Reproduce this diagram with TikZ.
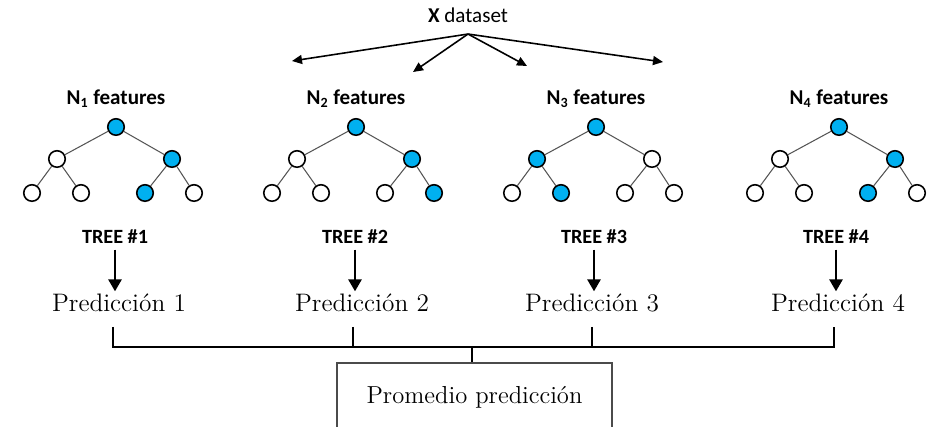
\documentclass[tikz,border=0pt]{standalone}
\usepackage{fontspec}
\newfontfamily\calibri{Carlito}
\usetikzlibrary{arrows.meta}

\definecolor{splitblue}{RGB}{0,176,240}
\definecolor{branchgray}{RGB}{85,85,85}
\definecolor{boxgray}{RGB}{75,75,75}

\tikzset{
  tnode/.style={circle,draw=black,line width=0.9pt,fill=#1,minimum size=3.3mm,inner sep=0pt},
  branch/.style={branchgray,line width=0.6pt},
  feat/.style={font=\calibri\bfseries\fontsize{12}{14}\selectfont},
  treelab/.style={font=\calibri\bfseries\fontsize{11.5}{13}\selectfont,inner sep=3pt},
  pred/.style={font=\fontsize{14.4}{16}\selectfont,anchor=base,inner sep=1.5pt},
  spread/.style={line width=0.9pt,-{Triangle[length=2mm,width=1.8mm]}},
  down/.style={line width=1.5pt,-{Triangle[length=2.4mm,width=2.6mm]}},
  bracket/.style={line width=1.3pt},
  avgbox/.style={draw=boxgray,line width=1.4pt,minimum width=55mm,minimum height=13.6mm,
    font=\fontsize{14}{16}\selectfont}
}

\begin{document}
\begin{tikzpicture}[x=0.2mm,y=-0.2mm]

\path[use as bounding box,clip] (0,0) rectangle (938,427);

% dataset split into four subsets
\node[font=\calibri\fontsize{12}{14}\selectfont,anchor=base,inner ysep=6pt] (xdata) at (468,23) {\textbf{X} dataset};
\coordinate (d1) at (292,61);
\coordinate (d2) at (413,72);
\coordinate (d3) at (527,66);
\coordinate (d4) at (663,62);
\foreach \i in {1,...,4}
  \draw[spread] (xdata.south) -- (d\i);

% the four trees (root is always used)
\foreach \t/\x/\ca/\cb/\la/\lb/\lc/\ld in {
    1/116/white/splitblue/white/white/splitblue/white,
    2/356/white/splitblue/white/white/white/splitblue,
    3/596/splitblue/white/white/splitblue/white/white,
    4/839/white/splitblue/white/white/splitblue/white}{
  \node[feat] (feat\t) at (\x,99) {N\textsubscript{\t} features};
  \node[tnode=splitblue] (r\t) at (\x,127) {};
  \node[tnode=\ca] (a\t) at (\x-59,159) {};
  \node[tnode=\cb] (b\t) at (\x+56,159) {};
  \node[tnode=\la] (aa\t) at (\x-84,193) {};
  \node[tnode=\lb] (ab\t) at (\x-35,193) {};
  \node[tnode=\lc] (ba\t) at (\x+29,193) {};
  \node[tnode=\ld] (bb\t) at (\x+78,193) {};
  \draw[branch] (r\t) -- (a\t);
  \draw[branch] (r\t) -- (b\t);
  \draw[branch] (a\t) -- (aa\t);
  \draw[branch] (a\t) -- (ab\t);
  \draw[branch] (b\t) -- (ba\t);
  \draw[branch] (b\t) -- (bb\t);
}

% tree labels and their predictions
\foreach \t/\x/\px in {1/115/119, 2/355/362, 3/594/592, 4/836/838}{
  \node[treelab] (lab\t) at (\x,237) {TREE \#\t};
  \node[pred] (pred\t) at (\px,312) {Predicción \t};
  \draw[down] (lab\t.south) -- (lab\t.south |- pred\t.north);
  \coordinate (tick\t) at (\x-2,327);
}

% averaging
\coordinate (bus) at (472,347);
\node[avgbox] (avg) at (474.5,397) {Promedio predicción};

\draw[bracket] (tick1) |- (tick4 |- bus) -- (tick4);
\draw[bracket] (tick2) -- (tick2 |- bus);
\draw[bracket] (tick3) -- (tick3 |- bus);
\draw[bracket] (bus) -- (bus |- avg.north);

\end{tikzpicture}
\end{document}
